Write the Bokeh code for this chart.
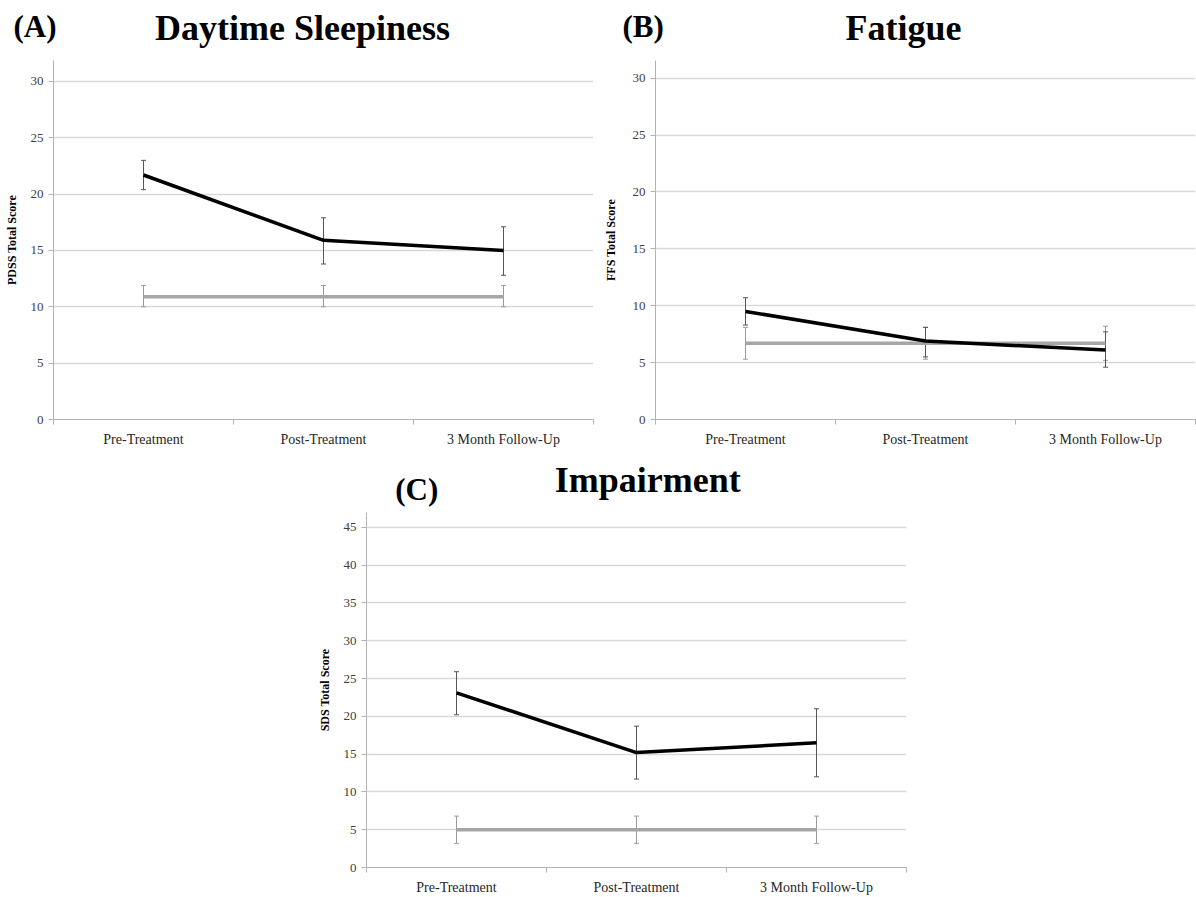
from bokeh.plotting import figure
from bokeh.models import (ColumnDataSource, Range1d, FixedTicker, Whisker, TeeHead, Spacer)
from bokeh.core.properties import value
from bokeh.layouts import column, row
from bokeh.embed import file_html
from bokeh.resources import INLINE

# ---------------- data ----------------
categories = ["Pre-Treatment", "Post-Treatment", "3 Month Follow-Up"]

pdss_tx = [21.7, 15.9, 15.0]
pdss_tx_lo = [20.4, 13.8, 12.8]
pdss_tx_hi = [23.0, 17.9, 17.1]
pdss_ctrl = [10.9, 10.9, 10.9]
pdss_ctrl_lo = [10.0, 10.0, 10.0]
pdss_ctrl_hi = [11.9, 11.9, 11.9]

ffs_tx = [9.5, 6.9, 6.1]
ffs_tx_lo = [8.3, 5.5, 4.6]
ffs_tx_hi = [10.7, 8.1, 7.7]
ffs_ctrl = [6.7, 6.7, 6.7]
ffs_ctrl_lo = [5.3, 5.3, 5.2]
ffs_ctrl_hi = [8.1, 8.1, 8.2]

sds_tx = [23.1, 15.2, 16.5]
sds_tx_lo = [20.2, 11.7, 12.0]
sds_tx_hi = [25.9, 18.7, 21.0]
sds_ctrl = [5.0, 5.0, 5.0]
sds_ctrl_lo = [3.2, 3.2, 3.2]
sds_ctrl_hi = [6.8, 6.8, 6.8]

panel_letters = ["(A)", "(B)", "(C)"]
panel_titles = ["Daytime Sleepiness", "Fatigue", "Impairment"]

SERIF = "Liberation Serif"
GRID = "#d9d9d9"
AXIS = "#b3b3b3"


def panel(ylabel, tx, tx_lo, tx_hi, ctrl, ctrl_lo, ctrl_hi,
          y_end, y_ticks, width, height, bl, br, bt, bb, label_standoff):
    xs = [i + 0.5 for i in range(len(categories))]
    src = ColumnDataSource(dict(x=xs, tx=tx, tx_lo=tx_lo, tx_hi=tx_hi,
                                ctrl=ctrl, ctrl_lo=ctrl_lo, ctrl_hi=ctrl_hi))
    p = figure(width=width, height=height, output_backend="svg", toolbar_location=None,
               x_range=Range1d(0, len(categories)), y_range=Range1d(0, y_end),
               min_border_left=bl, min_border_right=br, min_border_top=bt,
               min_border_bottom=bb)
    p.outline_line_color = None

    xa = p.xaxis[0]
    xa.ticker = FixedTicker(ticks=xs, minor_ticks=list(range(len(categories) + 1)))
    xa.major_label_overrides = {x: c for x, c in zip(xs, categories)}
    xa.major_tick_out = 0
    xa.major_tick_in = 0
    xa.minor_tick_out = 5
    xa.minor_tick_in = 0
    xa.minor_tick_line_color = AXIS
    xa.axis_line_color = AXIS
    xa.major_label_text_font = SERIF
    xa.major_label_text_font_size = "14px"
    xa.major_label_text_color = "#262626"
    xa.major_label_standoff = 7

    ya = p.yaxis[0]
    ya.ticker = FixedTicker(ticks=y_ticks, minor_ticks=[])
    ya.major_tick_out = 5
    ya.major_tick_in = 0
    ya.major_tick_line_color = AXIS
    ya.axis_line_color = AXIS
    ya.major_label_text_font = SERIF
    ya.major_label_text_font_size = "13px"
    ya.major_label_text_color = "#404040"
    ya.major_label_standoff = 5
    ya.axis_label = ylabel
    ya.axis_label_text_font = SERIF
    ya.axis_label_text_font_style = "bold"
    ya.axis_label_text_font_size = "12px"
    ya.axis_label_text_color = "black"
    ya.axis_label_standoff = label_standoff

    p.xgrid.grid_line_color = None
    p.ygrid.grid_line_color = GRID
    p.ygrid.grid_line_width = 1.5
    p.ygrid.ticker = FixedTicker(ticks=y_ticks)

    p.add_layout(Whisker(source=src, base="x", lower="ctrl_lo", upper="ctrl_hi",
                         dimension="height", line_color="#9a9a9a", line_width=1,
                         upper_head=TeeHead(size=5, line_color="#9a9a9a", line_width=1),
                         lower_head=TeeHead(size=5, line_color="#9a9a9a", line_width=1)))
    p.line("x", "ctrl", source=src, line_color="#a6a6a6", line_width=3.5)
    p.add_layout(Whisker(source=src, base="x", lower="tx_lo", upper="tx_hi",
                         dimension="height", line_color="#555555", line_width=1,
                         upper_head=TeeHead(size=5, line_color="#555555", line_width=1),
                         lower_head=TeeHead(size=5, line_color="#555555", line_width=1)))
    p.line("x", "tx", source=src, line_color="black", line_width=3.5)
    return p


def title_strip(width, height):
    t = figure(width=width, height=height, output_backend="svg", toolbar_location=None,
               x_range=Range1d(0, width), y_range=Range1d(height, 0),
               min_border=0, x_axis_type=None, y_axis_type=None)
    t.outline_line_color = None
    t.xgrid.grid_line_color = None
    t.ygrid.grid_line_color = None
    return t


def put_text(t, x, y, text, size, align):
    t.text(x=[x], y=[y], text=[text], text_font=value(SERIF), text_font_style="bold",
           text_font_size=size, text_align=align, text_baseline="alphabetic",
           text_color="black")


# top strip with titles for A and B
top = title_strip(1196, 50)
put_text(top, 13, 26, panel_letters[0], "31px", "left")
put_text(top, 302, 27, panel_titles[0], "36px", "center")
put_text(top, 622, 26, panel_letters[1], "31px", "left")
put_text(top, 903, 27, panel_titles[1], "36px", "center")

pA = panel("PDSS Total Score", pdss_tx, pdss_tx_lo, pdss_tx_hi,
           pdss_ctrl, pdss_ctrl_lo, pdss_ctrl_hi,
           31.86, [0, 5, 10, 15, 20, 25, 30], 598, 405, 53, 5, 10, 36, 9)
pB = panel("FFS Total Score", ffs_tx, ffs_tx_lo, ffs_tx_hi,
           ffs_ctrl, ffs_ctrl_lo, ffs_ctrl_hi,
           31.55, [0, 5, 10, 15, 20, 25, 30], 598, 405, 57, 1, 3, 36, 12)

# strip with title for C
mid = title_strip(620, 55)
put_text(mid, 33, 34, panel_letters[2], "31px", "left")
put_text(mid, 323, 24, panel_titles[2], "36px", "center")

pC = panel("SDS Total Score", sds_tx, sds_tx_lo, sds_tx_hi,
           sds_ctrl, sds_ctrl_lo, sds_ctrl_hi,
           46.96, [0, 5, 10, 15, 20, 25, 30, 35, 40, 45], 620, 387, 76, 4, 2, 26, 9)

layout = column(top, row(pA, pB),
                row(Spacer(width=290, height=442), column(mid, pC)))

open("out.html", "w").write(file_html(layout, INLINE))
